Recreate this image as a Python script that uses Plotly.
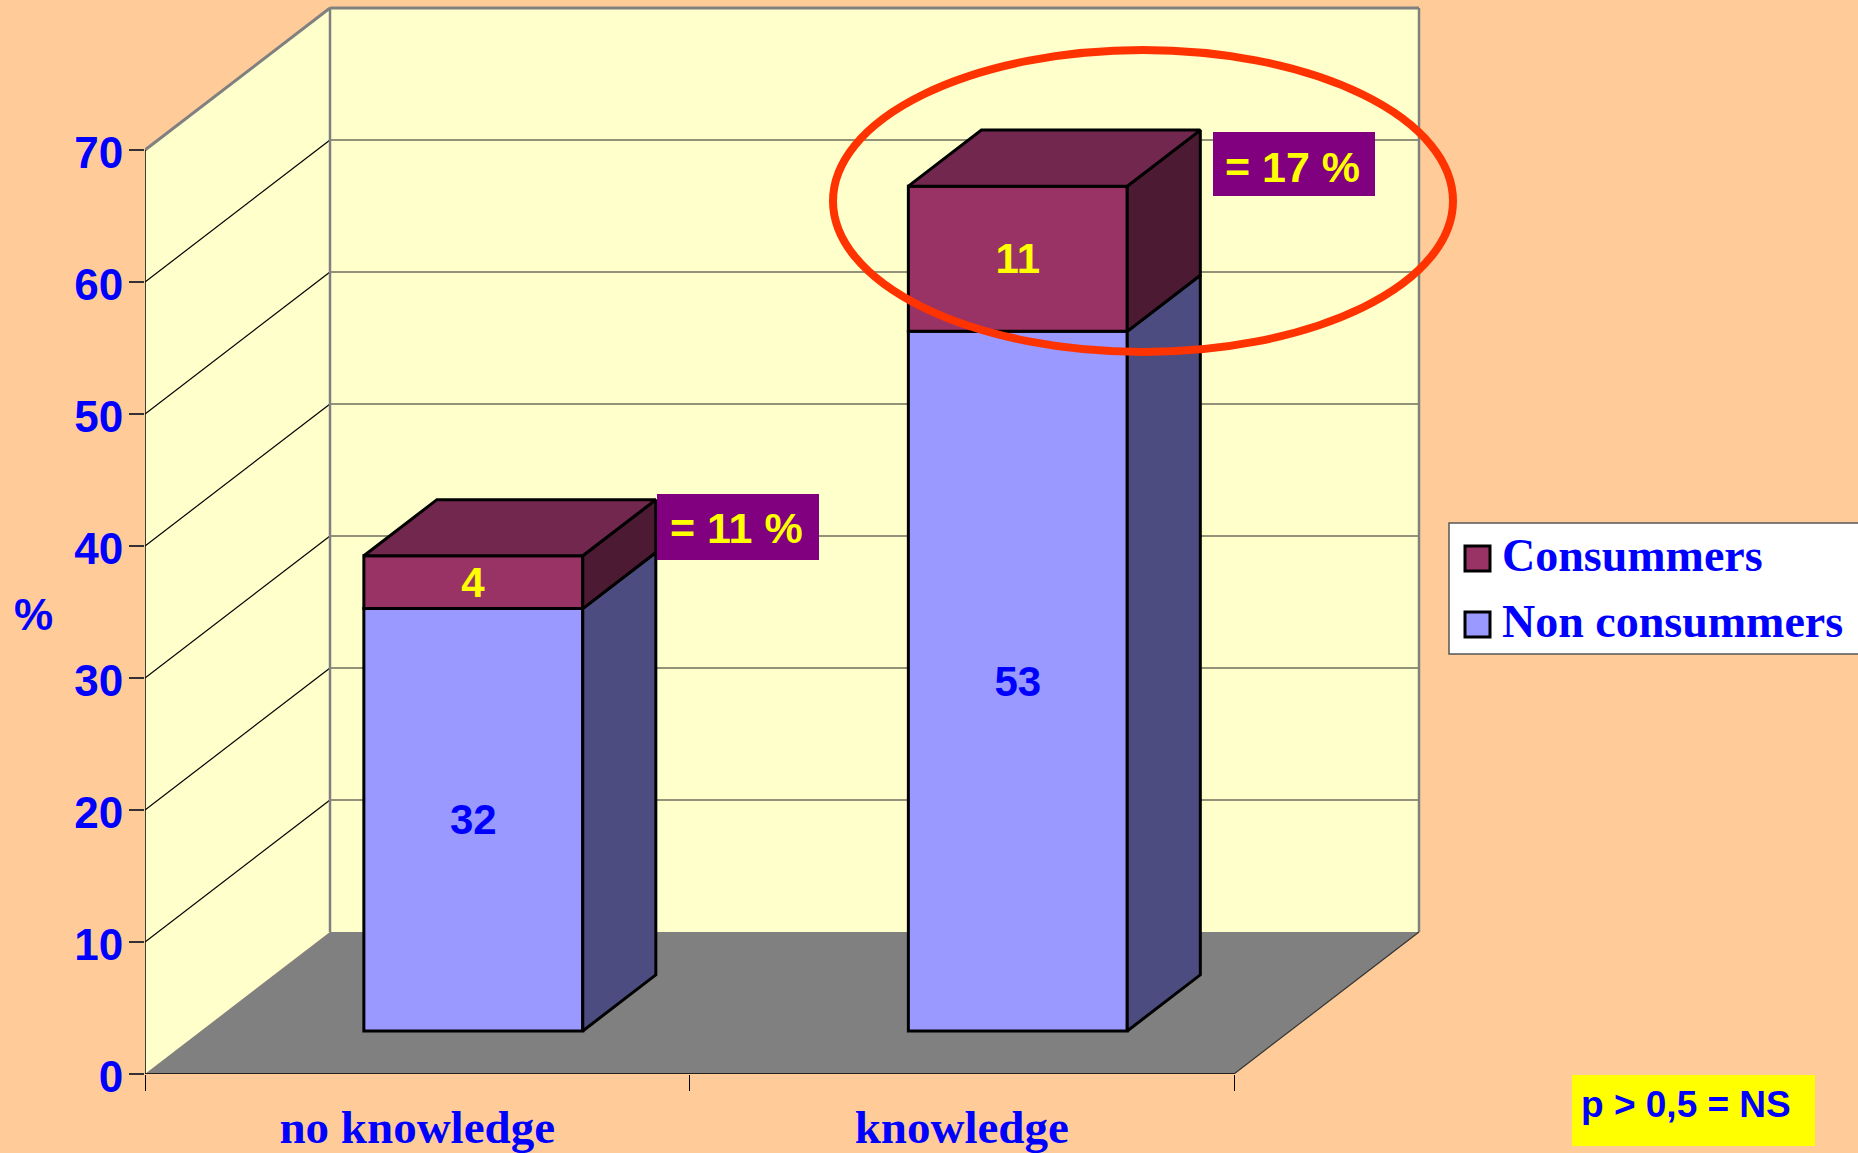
import plotly.graph_objects as go

# ---- data ----
categories = ["no knowledge", "knowledge"]
non_consumers = [32, 53]
consumers = [4, 11]
share_labels = ["= 11 %", "= 17 %"]
y_ticks = [0, 10, 20, 30, 40, 50, 60, 70]
legend_labels = ["Consummers", "Non consummers"]
note = "p > 0,5 = NS"

# ---- colours ----
BG, WALL, FLOOR = "#FFCC99", "#FFFFCC", "#808080"
BLUE, YELLOW, PURPLE = "#0000FF", "#FFFF00", "#800080"
LOW, LOW_SIDE = "#9999FF", "#4C4C80"
TOP, TOP_SIDE, TOP_CAP = "#993366", "#4C1A33", "#72274F"
RING = "#FF3300"
SANS, SERIF = "Liberation Sans", "Liberation Serif"

# ---- layout frame (pixels of the page) ----
W, H = 1858, 1153
L, R, T, B = 145, 1430, 3, 1074
CAT_PX = 544.5          # pixels per category
VAL_PX = 13.2           # pixels per percent
xmin = -0.5
xmax = xmin + (R - L) / CAT_PX
ymax = (B - T) / VAL_PX

# oblique projection: depth 0 = front of chart, depth 1 = back wall
DX = 185 / CAT_PX
DY = 142 / VAL_PX
def proj(x, v, d=0.0):
    return x + d * DX, v + d * DY
BAR_W = 0.402
D0, D1 = 0.303, 0.303 + 0.395

def px(x):
    return (x - L) / (R - L)
def py(y):
    return (B - y) / (B - T)

def path(points):
    return "M" + " L".join(f"{x},{y}" for x, y in points) + " Z"

shapes = []
def poly(points, fill, line=None, width=0):
    shapes.append(dict(type="path", xref="x", yref="y", layer="below", path=path(points),
                       fillcolor=fill, line=dict(color=line or fill, width=width)))
def seg(a, b, color, width):
    shapes.append(dict(type="line", xref="x", yref="y", layer="below",
                       x0=a[0], y0=a[1], x1=b[0], y1=b[1], line=dict(color=color, width=width)))

x0, x1 = -0.5, 1.5
top = y_ticks[-1]
poly([proj(x0, 0), proj(x0, top), proj(x0, top, 1), proj(x0, 0, 1)], WALL)
poly([proj(x0, 0, 1), proj(x0, top, 1), proj(x1, top, 1), proj(x1, 0, 1)], WALL)
poly([proj(x0, 0), proj(x1, 0), proj(x1, 0, 1), proj(x0, 0, 1)], FLOOR)
for v in y_ticks[1:-1]:
    seg(proj(x0, v), proj(x0, v, 1), "#000000", 1.2)
    seg(proj(x0, v, 1), proj(x1, v, 1), "#6E6E5C", 1.5)
seg(proj(x0, top), proj(x0, top, 1), "#808080", 3)
seg(proj(x0, 0, 1), proj(x0, top, 1), "#808080", 2.5)
seg(proj(x0, top, 1), proj(x1, top, 1), "#808080", 3)
seg(proj(x1, 0, 1), proj(x1, top, 1), "#808080", 2.5)
seg(proj(x1, 0), proj(x1, 0, 1), "#333333", 1.2)

fig = go.Figure()

# front faces of the stacked columns
pos = [i + D0 * DX for i in range(len(categories))]
base0 = [D0 * DY] * len(categories)
base1 = [b + v for b, v in zip(base0, non_consumers)]
EDGE = dict(color="#000000", width=3)
fig.add_trace(go.Bar(x=pos, y=non_consumers, base=base0, width=BAR_W, name=legend_labels[1],
                     marker=dict(color=LOW, line=EDGE), text=[str(v) for v in non_consumers],
                     textposition="inside", insidetextanchor="middle", constraintext="none",
                     textangle=0, textfont=dict(family=SANS, size=42, color=BLUE, weight=700)))
fig.add_trace(go.Bar(x=pos, y=consumers, base=base1, width=BAR_W, name=legend_labels[0],
                     marker=dict(color=TOP, line=EDGE), text=[str(v) for v in consumers],
                     textposition="inside", insidetextanchor="middle", constraintext="none",
                     textangle=0, textfont=dict(family=SANS, size=42, color=YELLOW, weight=700)))

# side and top faces, projected from the same values
def face(points, fill):
    xs = [p[0] for p in points] + [points[0][0]]
    ys = [p[1] for p in points] + [points[0][1]]
    fig.add_trace(go.Scatter(x=xs, y=ys, mode="lines", fill="toself", fillcolor=fill,
                             line=dict(color="#000000", width=3), hoverinfo="skip", showlegend=False))

for i in range(len(categories)):
    l, r = i - BAR_W / 2, i + BAR_W / 2
    a, b = non_consumers[i], non_consumers[i] + consumers[i]
    face([proj(r, 0, D0), proj(r, 0, D1), proj(r, a, D1), proj(r, a, D0)], LOW_SIDE)
    face([proj(r, a, D0), proj(r, a, D1), proj(r, b, D1), proj(r, b, D0)], TOP_SIDE)
    face([proj(l, b, D0), proj(l, b, D1), proj(r, b, D1), proj(r, b, D0)], TOP_CAP)

# axis lines (kept unclipped so the full stroke shows)
for xs, ys in (([x0, x0], [0, top]), ([x0, x1], [0, 0])):
    fig.add_trace(go.Scatter(x=xs, y=ys, mode="lines", cliponaxis=False, showlegend=False,
                             hoverinfo="skip", line=dict(color="#000000", width=1.5)))

# chrome in page pixels
def rect(x_a, y_a, x_b, y_b, fill, line=None, width=0):
    shapes.append(dict(type="rect", xref="paper", yref="paper", layer="above",
                       x0=px(x_a), x1=px(x_b), y0=py(y_b), y1=py(y_a), fillcolor=fill,
                       line=dict(color=line or fill, width=width)))

annotations = []
def label(x, y, text, family, size, color, anchor="left"):
    annotations.append(dict(xref="paper", yref="paper", x=px(x), y=py(y), text=text, showarrow=False,
                            xanchor=anchor, yanchor="middle", borderpad=0,
                            font=dict(family=family, size=size, color=color, weight=700)))

shapes.append(dict(type="circle", xref="paper", yref="paper", layer="above",
                   x0=px(833), x1=px(1453), y0=py(352), y1=py(50),
                   fillcolor="rgba(0,0,0,0)", line=dict(color=RING, width=8)))

rect(657, 494, 819, 560, PURPLE)
label(736, 528, share_labels[0], SANS, 43, YELLOW, "center")
rect(1213, 132, 1375, 196, PURPLE)
label(1292, 167, share_labels[1], SANS, 43, YELLOW, "center")

rect(1449, 523, 1870, 654, "#FFFFFF", "#555555", 1.5)
rect(1465, 546, 1490, 571, TOP, "#000000", 3)
rect(1465, 612, 1490, 637, LOW, "#000000", 3)
label(1501, 556, legend_labels[0], SERIF, 46, BLUE)
label(1501, 622, legend_labels[1], SERIF, 46, BLUE)

rect(1572, 1075, 1815, 1146, YELLOW)
label(1580, 1104, note, SANS, 37, BLUE)
label(33, 614, "%", SANS, 44, BLUE, "center")

fig.update_layout(
    width=W, height=H, paper_bgcolor=BG, plot_bgcolor=BG, showlegend=False, barmode="overlay",
    margin=dict(l=L, r=W - R, t=T, b=H - B, pad=0, autoexpand=False),
    shapes=shapes, annotations=annotations,
    xaxis=dict(range=[xmin, xmax], tickmode="array", tickvals=list(range(len(categories))),
               ticktext=categories, ticks="", showgrid=False, zeroline=False, showline=False,
               ticklabelstandoff=21,
               tickfont=dict(family=SERIF, size=47, color=BLUE, weight=700),
               minor=dict(tickmode="array", tickvals=[-0.5, 0.5, 1.5], ticks="outside", ticklen=16,
                          tickwidth=1, tickcolor="#000000", showgrid=False)),
    yaxis=dict(range=[0, ymax], tickmode="array", tickvals=y_ticks, ticks="outside", ticklen=15,
               tickwidth=1.5, tickcolor="#333333", showgrid=False, zeroline=False, showline=False,
               ticklabelstandoff=-3, ticklabelshift=3,
               tickfont=dict(family=SANS, size=44, color=BLUE, weight=700)),
)

fig.write_html("out.html", config=dict(displayModeBar=False),
               post_script="document.body.style.margin='0';document.documentElement.style.overflow='hidden';")
